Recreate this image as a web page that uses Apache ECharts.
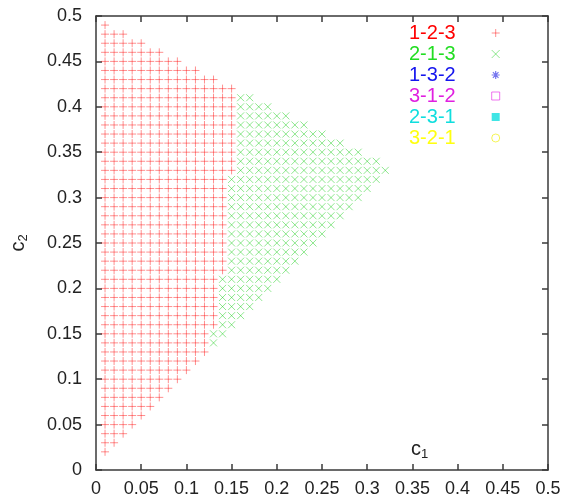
<!DOCTYPE html>
<html>
<head>
<meta charset="utf-8">
<script src="https://cdn.jsdelivr.net/npm/echarts@6/dist/echarts.min.js"></script>
<style>
html,body{margin:0;padding:0;background:#fff;}
#chart{width:564px;height:500px;}
</style>
</head>
<body>
<div id="chart"></div>
<script>
// ---- data (grid step 0.01) ----
const c2Rows = [0.02,0.03,0.04,0.05,0.06,0.07,0.08,0.09,0.10,0.11,0.12,0.13,0.14,0.15,0.16,0.17,0.18,0.19,0.20,0.21,0.22,0.23,0.24,0.25,0.26,0.27,0.28,0.29,0.30,0.31,0.32,0.33,0.34,0.35,0.36,0.37,0.38,0.39,0.40,0.41,0.42,0.43,0.44,0.45,0.46,0.47,0.48,0.49];
// last c1 of the 1-2-3 points in each row (rows start at c1 = 0.01)
const redLast = [0.01,0.02,0.03,0.04,0.05,0.06,0.07,0.08,0.09,0.10,0.11,0.12,0.12,0.12,0.13,0.13,0.13,0.13,0.13,0.13,0.14,0.14,0.14,0.14,0.14,0.14,0.14,0.14,0.14,0.14,0.14,0.15,0.15,0.15,0.15,0.15,0.15,0.15,0.15,0.15,0.15,0.13,0.11,0.09,0.07,0.05,0.03,0.01];
// first / last c1 of the 2-1-3 points in each row (null: none)
const greenFirst = [null,null,null,null,null,null,null,null,null,null,null,null,0.13,0.13,0.14,0.14,0.14,0.14,0.14,0.14,0.15,0.15,0.15,0.15,0.15,0.15,0.15,0.15,0.15,0.15,0.15,0.16,0.16,0.16,0.16,0.16,0.16,0.16,0.16,0.16,null,null,null,null,null,null,null,null];
const greenLast  = [null,null,null,null,null,null,null,null,null,null,null,null,0.13,0.14,0.15,0.16,0.17,0.18,0.19,0.20,0.21,0.22,0.23,0.24,0.25,0.26,0.27,0.28,0.29,0.30,0.31,0.32,0.31,0.29,0.27,0.25,0.23,0.21,0.19,0.17,null,null,null,null,null,null,null,null];
const c1First = 0.01;
const seriesNames = ['1-2-3','2-1-3','1-3-2','3-1-2','2-3-1','3-2-1'];
const seriesColors = ['#ff0000','#22dd22','#1515ee','#e020e0','#10dede','#ffff10'];
const axisTicks = [0,0.05,0.1,0.15,0.2,0.25,0.3,0.35,0.4,0.45,0.5];

// ---- build point lists from the rows ----
function rowPoints(from, to, c2) {
  const pts = [];
  if (from == null || to == null) return pts;
  const a = Math.round(from * 100), b = Math.round(to * 100);
  for (let k = a; k <= b; k++) pts.push([k / 100, c2]);
  return pts;
}
const red = [], green = [];
c2Rows.forEach((c2, i) => {
  red.push(...rowPoints(c1First, redLast[i], c2));
  green.push(...rowPoints(greenFirst[i], greenLast[i], c2));
});

const PLUS = 'path://M0,5L10,5M5,0L5,10';
const CROSS = 'path://M0,0L10,10M10,0L0,10';
const STAR = 'path://M0,5L10,5M5,0L5,10M1.5,1.5L8.5,8.5M8.5,1.5L1.5,8.5';
const SQUARE = 'path://M0,0L10,0L10,10L0,10Z';
const icons = [PLUS, CROSS, STAR, SQUARE, SQUARE, 'circle'];
const iconStyles = [
  {color:'none', borderColor:'rgba(255,0,0,0.55)', borderWidth:1},
  {color:'none', borderColor:'rgba(0,200,0,0.55)', borderWidth:1},
  {color:'none', borderColor:'rgba(40,40,230,0.8)', borderWidth:1.2},
  {color:'none', borderColor:'rgba(230,40,230,0.8)', borderWidth:1},
  {color:'#10dede', borderColor:'#10dede', borderWidth:0},
  {color:'none', borderColor:'rgba(240,240,20,0.9)', borderWidth:1}
];

const FONT = 'Liberation Sans, Arial, Helvetica, sans-serif';
const fmt = v => (Math.abs(v) < 1e-9 ? '0' : String(+v.toFixed(2)));
const lineStyle = {color:'#3a3a3a', width:1.5};

function xAx(pos, labels) {
  return {
    type:'value', position:pos, min:0, max:0.5, interval:0.05,
    axisLine:{show:true, onZero:false, lineStyle},
    axisTick:{show:true, inside:true, length:6, lineStyle},
    axisLabel:{show:labels, fontSize:18, color:'#222', fontFamily:FONT, margin:10, formatter:fmt},
    splitLine:{show:false}
  };
}
function yAx(pos, labels) {
  return {
    type:'value', position:pos, min:0, max:0.5, interval:0.05,
    axisLine:{show:true, onZero:false, lineStyle},
    axisTick:{show:true, inside:true, length:6, lineStyle},
    axisLabel:{show:labels, fontSize:18, color:'#222', fontFamily:FONT, margin:14, formatter:fmt},
    splitLine:{show:false}
  };
}

const yA = yAx('left', true);
yA.name = '{c|c}{s|2}';
yA.nameLocation = 'middle';
yA.nameGap = 66;
yA.nameTextStyle = {fontFamily:FONT, color:'#222', rich:{c:{fontSize:20, fontFamily:FONT, color:'#222', lineHeight:24}, s:{fontSize:13, fontFamily:FONT, color:'#222', verticalAlign:'bottom', lineHeight:24}}};

const chart = echarts.init(document.getElementById('chart'), null, {renderer:'canvas'});
chart.setOption({
  animation:false,
  backgroundColor:'#fff',
  grid:{left:96, right:16, top:16, bottom:30, containLabel:false},
  xAxis:[xAx('bottom', true), xAx('top', false)],
  yAxis:[yA, yAx('right', false)],
  legend:{
    orient:'vertical', left:409, top:23, padding:0, itemGap:1,
    align:'right', itemWidth:70, itemHeight:8, selectedMode:false,
    textStyle:{fontSize:20, fontFamily:FONT, lineHeight:20},
    data: seriesNames.map((n, i) => ({
      name:n, icon:icons[i], itemStyle:iconStyles[i], textStyle:{color:seriesColors[i]}
    }))
  },
  graphic:[{
    type:'text', left:411, top:439,
    style:{text:'{c|c}{s|1}', rich:{c:{fontSize:20, fontFamily:FONT, fill:'#222', lineHeight:24}, s:{fontSize:13, fontFamily:FONT, fill:'#222', verticalAlign:'bottom', lineHeight:24}}}
  }],
  series:[
    {name:seriesNames[0], type:'scatter', data:red, symbol:PLUS, symbolSize:8, itemStyle:iconStyles[0], emphasis:{disabled:true}},
    {name:seriesNames[1], type:'scatter', data:green, symbol:CROSS, symbolSize:7, itemStyle:iconStyles[1], emphasis:{disabled:true}},
    {name:seriesNames[2], type:'scatter', data:[], symbol:STAR, itemStyle:iconStyles[2]},
    {name:seriesNames[3], type:'scatter', data:[], symbol:SQUARE, itemStyle:iconStyles[3]},
    {name:seriesNames[4], type:'scatter', data:[], symbol:SQUARE, itemStyle:iconStyles[4]},
    {name:seriesNames[5], type:'scatter', data:[], symbol:'circle', itemStyle:iconStyles[5]}
  ]
});
</script>
</body>
</html>
